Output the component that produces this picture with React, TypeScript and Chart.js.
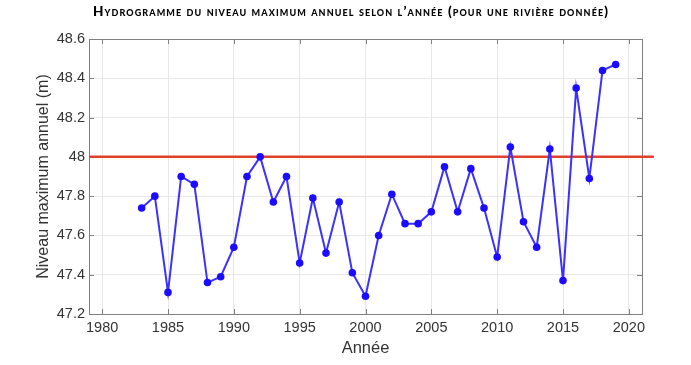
import React, { useEffect, useRef } from "react";
import { Chart, registerables } from "chart.js";

Chart.register(...registerables);

const chartTitle = "Hydrogramme du niveau maximum annuel selon l’année (pour une rivière donnée)";
const yAxisTitle = "Niveau maximum annuel (m)";
const xAxisTitle = "Année";

const years = [
  1983, 1984, 1985, 1986, 1987, 1988, 1989, 1990, 1991, 1992,
  1993, 1994, 1995, 1996, 1997, 1998, 1999, 2000, 2001, 2002,
  2003, 2004, 2005, 2006, 2007, 2008, 2009, 2010, 2011, 2012,
  2013, 2014, 2015, 2016, 2017, 2018, 2019,
];
const levels = [
  47.74, 47.80, 47.31, 47.90, 47.86, 47.36, 47.39, 47.54, 47.90, 48.00,
  47.77, 47.90, 47.46, 47.79, 47.51, 47.77, 47.41, 47.29, 47.60, 47.81,
  47.66, 47.66, 47.72, 47.95, 47.72, 47.94, 47.74, 47.49, 48.05, 47.67,
  47.54, 48.04, 47.37, 48.35, 47.89, 48.44, 48.47,
];
const thresholdX = [1979, 2021.9];
const thresholdY = [48, 48];
const xTicks = [1980, 1985, 1990, 1995, 2000, 2005, 2010, 2015, 2020];
const yTicks = [47.2, 47.4, 47.6, 47.8, 48.0, 48.2, 48.4, 48.6];

const FONT = "'Liberation Sans', Arial, Helvetica, sans-serif";
const AXIS_COLOR = "#808080";
const GRID_COLOR = "#e8e8e8";
const TEXT_COLOR = "#333333";

const boxPlugin = {
  id: "matlabBox",
  beforeDatasetsDraw(chart: any) {
    const { ctx, chartArea, scales } = chart;
    const { left, right, top, bottom } = chartArea;
    const len = 5;
    ctx.save();
    ctx.strokeStyle = AXIS_COLOR;
    ctx.lineWidth = 1;
    ctx.beginPath();
    for (const v of xTicks) {
      const px = Math.round(scales.x.getPixelForValue(v)) + 0.5;
      ctx.moveTo(px, bottom);
      ctx.lineTo(px, bottom - len);
      ctx.moveTo(px, top);
      ctx.lineTo(px, top + len);
    }
    for (const v of yTicks) {
      const py = Math.round(scales.y.getPixelForValue(v)) + 0.5;
      ctx.moveTo(left, py);
      ctx.lineTo(left + len, py);
      ctx.moveTo(right, py);
      ctx.lineTo(right - len, py);
    }
    ctx.stroke();
    ctx.strokeRect(Math.round(left) + 0.5, Math.round(top) + 0.5, Math.round(right - left), Math.round(bottom - top));
    ctx.restore();
  },
};

export default function App() {
  const canvasRef = useRef<HTMLCanvasElement | null>(null);

  useEffect(() => {
    const canvas = canvasRef.current;
    if (!canvas) return;
    const chart = new Chart(canvas, {
      type: "line",
      data: {
        datasets: [
          {
            label: "Niveau",
            data: years.map((y, i) => ({ x: y, y: levels[i] })),
            borderColor: "rgb(60,50,255)",
            backgroundColor: "#1c0cff",
            borderWidth: 2,
            pointRadius: 3.8,
            pointBorderWidth: 0,
            pointBackgroundColor: "#1c0cff",
            tension: 0,
            order: 0,
          },
          {
            label: "Seuil",
            data: thresholdX.map((x, i) => ({ x, y: thresholdY[i] })),
            borderColor: "#e0412f",
            borderWidth: 2.5,
            pointRadius: 0,
            clip: false as any,
            order: 1,
          },
        ],
      },
      options: {
        responsive: false,
        animation: false,
        layout: { padding: { top: 39, right: 49, left: 0, bottom: 0 } },
        plugins: {
          legend: { display: false },
          title: { display: false },
          tooltip: { enabled: false },
        },
        scales: {
          x: {
            type: "linear",
            min: 1979,
            max: 2021,
            afterBuildTicks: (s: any) => {
              s.ticks = xTicks.map((v) => ({ value: v }));
            },
            afterFit: (s: any) => {
              s.height = 51;
            },
            grid: { color: GRID_COLOR, drawTicks: false },
            border: { display: false },
            ticks: {
              autoSkip: false,
              maxRotation: 0,
              padding: 5,
              color: TEXT_COLOR,
              font: { family: FONT, size: 14.5 },
              callback: (v: any) => String(v),
            },
            title: {
              display: true,
              text: xAxisTitle,
              color: TEXT_COLOR,
              font: { family: FONT, size: 16.5 },
              padding: { top: 0, bottom: 7 },
            },
          },
          y: {
            type: "linear",
            min: 47.2,
            max: 48.6,
            afterBuildTicks: (s: any) => {
              s.ticks = yTicks.map((v) => ({ value: v }));
            },
            afterFit: (s: any) => {
              s.width = 89;
            },
            grid: { color: GRID_COLOR, drawTicks: false },
            border: { display: false },
            ticks: {
              padding: 4,
              color: TEXT_COLOR,
              font: { family: FONT, size: 14.5 },
              callback: (v: any) => Number(v).toFixed(1).replace(/\.0$/, ""),
            },
            title: {
              display: true,
              text: yAxisTitle,
              color: TEXT_COLOR,
              font: { family: FONT, size: 16 },
              padding: { top: 34, bottom: 0 },
            },
          },
        },
      },
      plugins: [boxPlugin],
    } as any);
    return () => chart.destroy();
  }, []);

  return (
    <div
      style={{
        position: "fixed",
        left: 0,
        top: 0,
        width: 691,
        height: 365,
        background: "#ffffff",
        overflow: "hidden",
      }}
    >
      <canvas ref={canvasRef} width={691} height={365} style={{ width: 691, height: 365, display: "block" }} />
      <div
        style={{
          position: "absolute",
          left: 351,
          top: 0,
          transform: "translateX(-50%)",
          whiteSpace: "nowrap",
          fontFamily: "Lato, 'Open Sans', sans-serif",
          fontWeight: 900,
          fontVariant: "small-caps",
          fontSize: 13.5,
          letterSpacing: "1.1px",
          lineHeight: "22px",
          color: "#000000",
        }}
      >
        {chartTitle}
      </div>
    </div>
  );
}
